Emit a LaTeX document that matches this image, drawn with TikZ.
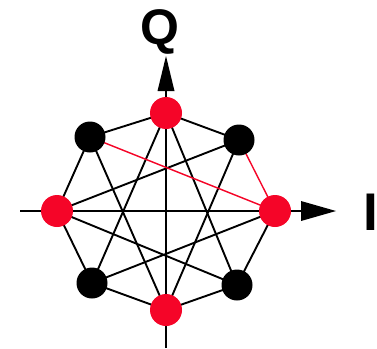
\documentclass[tikz,border=0pt]{standalone}
\usepackage{fontspec}
\setmainfont{Liberation Sans}
\definecolor{ptred}{RGB}{245,5,40}
\begin{document}
\begin{tikzpicture}[x=1pt,y=-1pt,
  redpt/.style={circle,fill=ptred,inner sep=0pt,minimum size=32pt},
  blackpt/.style={circle,fill=black,inner sep=0pt,minimum size=31pt},
  edge/.style={line width=1.9pt,black},
  redline/.style={line width=1.4pt,ptred},
  axis/.style={line width=2pt,black},
  lbl/.style={inner sep=0pt,font=\bfseries\fontsize{50}{50}\selectfont}]
\useasboundingbox (0,0) rectangle (377,348);
% coordinates
\coordinate (xl) at (20,211);
\coordinate (xa) at (301,211);
\coordinate (xt) at (336,211);
\coordinate (yb) at (166,348);
\coordinate (ya) at (166,91);
\coordinate (yt) at (166,56);
% axes
\draw[axis] (xl) -- (xa);
\draw[axis] (yb) -- (ya);
\fill (xt) -- (301,201) -- (301,221) -- cycle;
\fill (yt) -- (157.5,91) -- (174.5,91) -- cycle;
% points (positions)
\coordinate (p0) at (166,113);
\coordinate (p1) at (239,140);
\coordinate (p2) at (275,211);
\coordinate (p3) at (237,285);
\coordinate (p4) at (166,310);
\coordinate (p5) at (92,283);
\coordinate (p6) at (57,211);
\coordinate (p7) at (90,137);
% octagon
\draw[edge] (p0) -- (p1);
\draw[edge] (p2) -- (p3) -- (p4) -- (p5) -- (p6) -- (p7) -- (p0);
\draw[redline] (p1) -- (p2);
% star {8/3}
\draw[edge] (p0) -- (p3);
\draw[edge] (p0) -- (p5);
\draw[edge] (p1) -- (p4);
\draw[edge] (p1) -- (p6);
\draw[edge] (p2) -- (p5);
\draw[edge] (p3) -- (p6);
\draw[edge] (p4) -- (p7);
\draw[redline] (p7) -- (p2);
% dots
\node[redpt] (n0) at (p0) {};
\node[blackpt] (n1) at (p1) {};
\node[redpt] (n2) at (p2) {};
\node[blackpt] (n3) at (p3) {};
\node[redpt] (n4) at (p4) {};
\node[blackpt] (n5) at (p5) {};
\node[redpt] (n6) at (p6) {};
\node[blackpt] (n7) at (p7) {};
% labels
\node[lbl,anchor=base] (q) at (160,44) {Q};
\node[lbl,anchor=base,font=\bfseries\fontsize{53}{53}\selectfont] (i) at (370.5,230) {I};
\end{tikzpicture}
\end{document}
